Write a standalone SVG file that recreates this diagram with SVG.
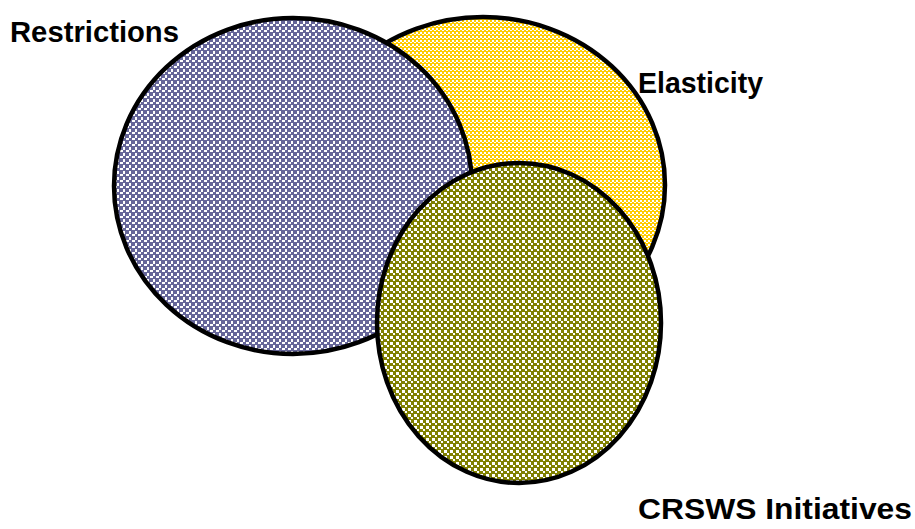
<svg xmlns="http://www.w3.org/2000/svg" width="915" height="529" viewBox="0 0 915 529">
<defs>
<pattern id="pBlue" width="6" height="6" patternUnits="userSpaceOnUse">
<rect width="6" height="6" fill="#666699" shape-rendering="crispEdges"/>
<rect x="0" y="0" width="3" height="2" fill="#ffffff" shape-rendering="crispEdges"/>
<rect x="3" y="3" width="2" height="3" fill="#ffffff" shape-rendering="crispEdges"/>
</pattern>
<pattern id="pYellow" width="4" height="4" patternUnits="userSpaceOnUse">
<rect width="4" height="4" fill="#ffcc00" shape-rendering="crispEdges"/>
<rect x="0" y="0" width="2" height="2" fill="#ffffff" shape-rendering="crispEdges"/>
<rect x="2" y="2" width="2" height="1" fill="#ffffff" shape-rendering="crispEdges"/>
</pattern>
<pattern id="pOlive" width="6" height="6" patternUnits="userSpaceOnUse">
<rect width="6" height="6" fill="#808000" shape-rendering="crispEdges"/>
<rect x="0" y="0" width="3" height="3" fill="#ffffff" shape-rendering="crispEdges"/>
<rect x="3" y="3" width="2" height="2" fill="#ffffff" shape-rendering="crispEdges"/>
</pattern>
<style>
.c{stroke:#000;stroke-width:4.5}
.t{font-family:"Liberation Sans",Arial,sans-serif;font-weight:bold;font-size:29px;fill:#000}
</style>
</defs>
<g id="elasticity">
<ellipse class="c" cx="483" cy="185" rx="182" ry="168" fill="url(#pYellow)"/>
</g>
<g id="restrictions">
<ellipse class="c" cx="293" cy="186" rx="179" ry="168" fill="url(#pBlue)"/>
</g>
<g id="crsws">
<ellipse class="c" cx="519" cy="323" rx="142" ry="160" fill="url(#pOlive)"/>
</g>
<g id="labels">
<text class="t" x="10" y="42" textLength="169" lengthAdjust="spacingAndGlyphs">Restrictions</text>
<text class="t" x="638" y="93" textLength="125" lengthAdjust="spacingAndGlyphs">Elasticity</text>
<text class="t" x="638" y="519" textLength="274" lengthAdjust="spacingAndGlyphs">CRSWS Initiatives</text>
</g>
<g id="connectors"/>
</svg>
